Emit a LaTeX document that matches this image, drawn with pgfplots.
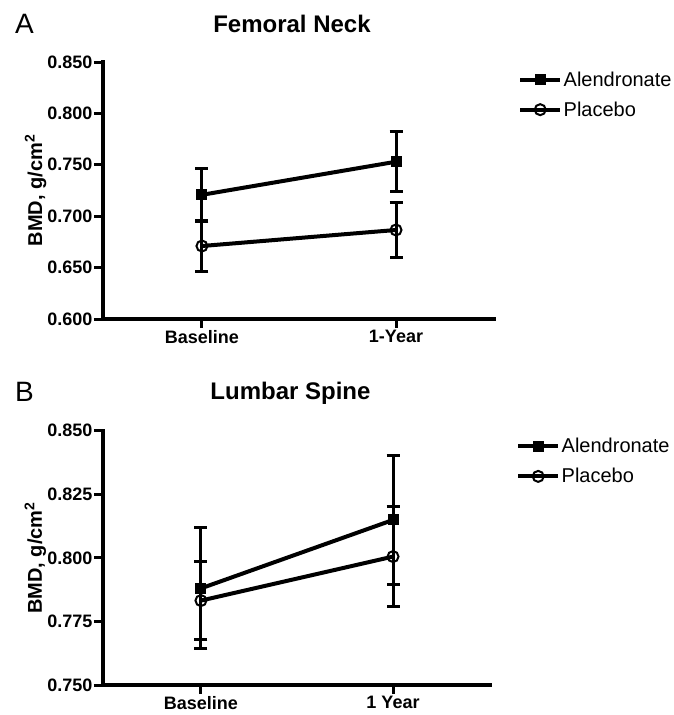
\documentclass[border=0pt]{standalone}
\usepackage{fontspec}
\setmainfont{Liberation Sans}
\usepackage{pgfplots}
\pgfplotsset{compat=1.18}

\pgfplotsset{
  bmd/.style={
    scale only axis,
    axis lines=left,
    axis line style={-, line width=3.5bp, line cap=rect},
    tick align=outside,
    major tick length=9bp,
    tick style={line width=3bp, black},
    clip=false,
    xmin=-0.51, xmax=1.505,
    xtick={0,1},
    tick label style={font=\fontsize{18bp}{20bp}\selectfont\bfseries},
    yticklabel style={inner sep=1.5bp, /pgf/number format/.cd, fixed, fixed zerofill, precision=3, assume math mode=true},
    xticklabel style={inner sep=2bp},
    ylabel={BMD, g/cm\textsuperscript{2}},
    ylabel style={font=\fontsize{20bp}{22bp}\selectfont\bfseries, anchor=base},
    title style={font=\fontsize{24bp}{26bp}\selectfont\bfseries, anchor=base},
    legend style={draw=none, fill=none, at={(axis description cs:1,1)}, anchor=north west,
      inner sep=0pt, font=\fontsize{20bp}{22bp}\selectfont, row sep=11bp,
      nodes={inner sep=1.5bp}, cells={anchor=west}},
    legend image code/.code={
      \draw[mark repeat=2, mark phase=2, #1] plot coordinates {(0bp,0bp) (20bp,0bp) (40bp,0bp)};
    },
    error bars/y dir=both,
    error bars/y explicit,
    error bars/error bar style={line width=3bp, black},
    error bars/error mark options={rotate=90, mark size=6.5bp, line width=3bp, black},
  },
  alen/.style={black, line width=4bp, mark=square*, mark size=5bp, mark options={solid, line width=1bp, fill=black}},
  plac/.style={black, line width=4bp, mark=o, mark size=5.5bp, mark options={solid, line width=2bp, fill=white}},
}

\begin{document}
\begin{tikzpicture}
\useasboundingbox (0,0) rectangle (674bp,-715bp);

% A: Femoral Neck
\begin{axis}[bmd,
  at={(103bp,-319bp)}, anchor=south west,
  width=391bp, height=257bp,
  ymin=0.6, ymax=0.85,
  ytick={0.6,0.65,0.7,0.75,0.8,0.85},
  xticklabels={Baseline,1-Year},
  ylabel style={at={(axis description cs:-0.156,0.5)}},
  title={Femoral Neck},
  title style={at={(axis description cs:0.5,1)}, yshift=23.5bp, xshift=-6.5bp},
  legend style={xshift=24bp, yshift=-8bp},
]
\addplot+[alen] coordinates {(0,0.7208) +- (0,0.0255) (1,0.753) +- (0,0.029)};
\addlegendentry{Alendronate}
\addplot+[plac] coordinates {(0,0.671) +- (0,0.025) (1,0.6866) +- (0,0.027)};
\addlegendentry{Placebo}
\end{axis}

% B: Lumbar Spine
\begin{axis}[bmd,
  at={(103bp,-685bp)}, anchor=south west,
  width=387bp, height=254.3bp,
  ymin=0.75, ymax=0.85,
  ytick={0.75,0.775,0.8,0.825,0.85},
  xticklabels={Baseline,1 Year},
  ylabel style={at={(axis description cs:-0.158,0.5)}},
  title={Lumbar Spine},
  title style={at={(axis description cs:0.5,1)}, yshift=25.4bp, xshift=-6bp},
  legend style={xshift=26bp, yshift=-6bp},
]
\addplot+[alen] coordinates {(0,0.788) +- (0,0.0238) (1,0.8149) +- (0,0.0255)};
\addlegendentry{Alendronate}
\addplot+[plac] coordinates {(0,0.7832) +- (0,0.0155) (1,0.8005) +- (0,0.0195)};
\addlegendentry{Placebo}
\end{axis}

\node[anchor=base west, inner sep=0pt, font=\fontsize{28bp}{30bp}\selectfont] at (15bp,-33.3bp) {A};
\node[anchor=base west, inner sep=0pt, font=\fontsize{28bp}{30bp}\selectfont] at (15bp,-401.7bp) {B};
\end{tikzpicture}
\end{document}
